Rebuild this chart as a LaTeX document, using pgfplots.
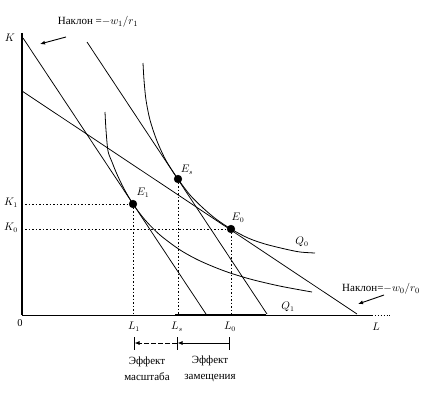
\documentclass[border=0pt]{standalone}
\usepackage{pgfplots}
\pgfplotsset{compat=1.18}
\usepackage{fontspec}
\setmainfont{Liberation Serif}
\usetikzlibrary{arrows.meta}
\begin{document}
\begin{tikzpicture}[
  lab/.style={font=\fontsize{10.5}{12}\selectfont},
  txt/.style={font=\fontsize{11}{16}\selectfont}]
\begin{axis}[hide axis, scale only axis, width=435pt, height=396pt,
  xmin=0, xmax=435, ymin=0, ymax=396, y dir=reverse, clip=false]
\addplot[draw=none, forget plot] coordinates {(0,0) (435,396)};
% axes
\addplot[black, line width=1.2pt] coordinates {(22,33) (22,315)};
\addplot[black, line width=0.9pt] coordinates {(22,315) (372,315)};
\addplot[black, line width=0.9pt, dotted] coordinates {(372,315) (392,315)};
\addplot[black, line width=2pt] coordinates {(175,315) (266,315)};
% isocost lines
\addplot[black, line width=0.75pt] coordinates {(23,38) (206,314)};
\addplot[black, line width=0.75pt] coordinates {(87,42) (267,314)};
\addplot[black, line width=0.75pt] coordinates {(22,91) (357,314)};
% isoquant Q0
\addplot[black, line width=0.8pt, smooth, tension=0.5] coordinates {
(143,63) (144,80) (146,100) (150,120) (157,141) (166,160.5) (178,179)
(190,195) (203,208) (216,219) (231,229) (248,238) (265,244) (285,249) (300,252) (315,253)};
% isoquant Q1
\addplot[black, line width=0.8pt, smooth, tension=0.5] coordinates {
(105,112) (106,130) (108,151) (112,162) (117,174.3) (124,188.8) (133,204)
(145,219.9) (160,235) (180,249.9) (200,260.9) (225,271.2) (250,279) (280,286.1) (312,292)};
% dotted guides
\addplot[black, line width=0.7pt, dash pattern=on 1.5pt off 2pt] coordinates {(25,204) (133,204)};
\addplot[black, line width=0.7pt, dash pattern=on 1.5pt off 2pt] coordinates {(25,229) (231,229)};
\addplot[black, line width=0.7pt, dash pattern=on 1.5pt off 2pt] coordinates {(133,204) (133,314)};
\addplot[black, line width=0.7pt, dash pattern=on 1.5pt off 2pt] coordinates {(178,179) (178,314)};
\addplot[black, line width=0.7pt, dash pattern=on 1.5pt off 2pt] coordinates {(231,229) (231,314)};
% points
\addplot[only marks, mark=*, mark size=3.9pt, black] coordinates {(133,204) (178,179) (231,229)};
% bracket below axis
\addplot[black, line width=0.8pt] coordinates {(134,337) (134,350)};
\addplot[black, line width=0.8pt] coordinates {(177,337) (177,350)};
\addplot[black, line width=0.8pt] coordinates {(229,337) (229,350)};
\addplot[black, line width=0.8pt, dash pattern=on 5pt off 2pt, -{Latex[length=5pt,width=4pt]}] coordinates {(177,343) (134.5,343)};
\addplot[black, line width=0.8pt, -{Latex[length=5pt,width=4pt]}] coordinates {(229,343) (177.5,343)};
% slope arrows
\addplot[black, line width=0.9pt, -{Latex[length=5pt,width=4pt]}] coordinates {(66,37) (40,44)};
\addplot[black, line width=0.9pt, -{Latex[length=5pt,width=4pt]}] coordinates {(384,295) (358,304)};
% labels
\node[lab] at (axis cs:10,38) {$K$};
\node[lab] at (axis cs:11,203) {$K_1$};
\node[lab] at (axis cs:11,228) {$K_0$};
\node[lab] at (axis cs:20,323) {0};
\node[lab] at (axis cs:134,327) {$L_1$};
\node[lab] at (axis cs:177,327) {$L_s$};
\node[lab] at (axis cs:230,327) {$L_0$};
\node[lab] at (axis cs:376,327) {$L$};
\node[lab] at (axis cs:143,193) {$E_1$};
\node[lab] at (axis cs:187,170) {$E_s$};
\node[lab] at (axis cs:238,218) {$E_0$};
\node[lab] at (axis cs:302,242) {$Q_0$};
\node[lab] at (axis cs:288,307) {$Q_1$};
\node[txt] at (axis cs:98,22) {Наклон =$-w_1/r_1$};
\node[txt] at (axis cs:381,289) {Наклон=$-w_0/r_0$};
\node[txt, align=center] at (axis cs:147,369) {Эффект\\масштаба};
\node[txt, align=center] at (axis cs:210,369) {Эффект\\замещения};
\end{axis}
\end{tikzpicture}
\end{document}
